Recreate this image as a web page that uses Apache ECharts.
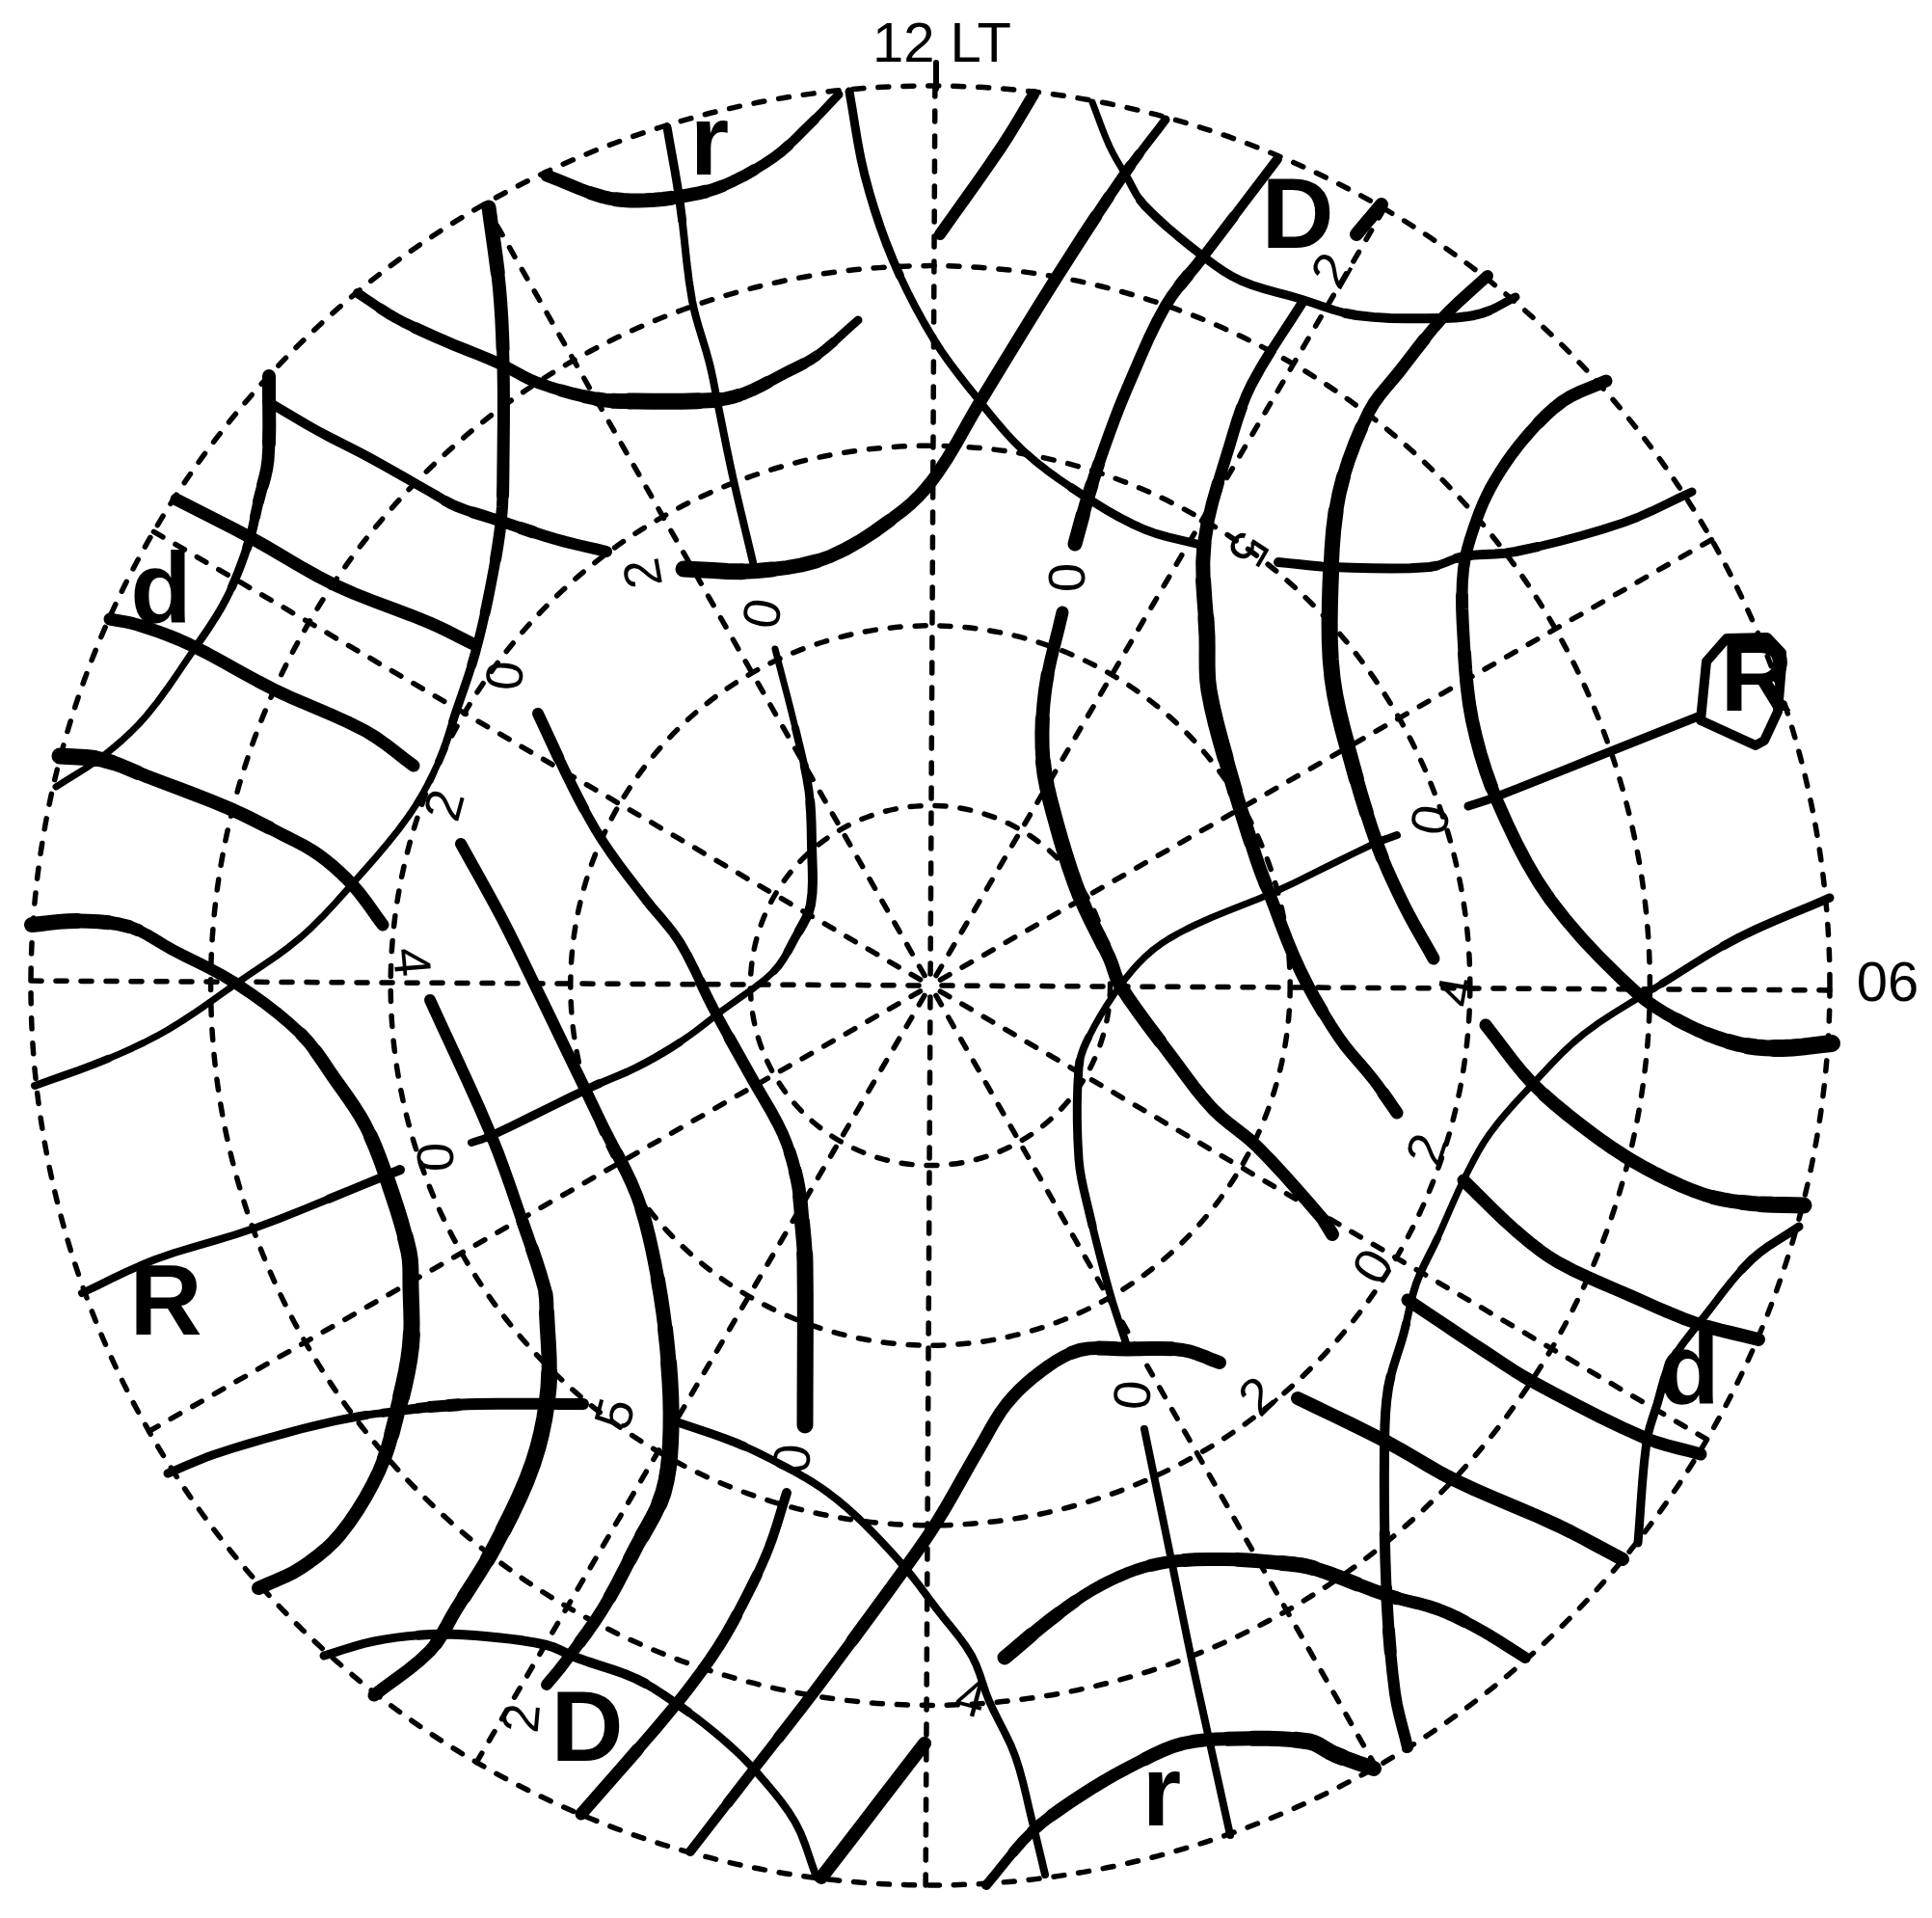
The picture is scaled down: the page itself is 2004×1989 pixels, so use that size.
<!DOCTYPE html>
<html><head><meta charset="utf-8">
<style>html,body{margin:0;padding:0;background:#fff}#c{width:2004px;height:1989px}</style>
<script src="https://cdn.jsdelivr.net/npm/echarts@6/dist/echarts.min.js"></script>
</head><body><div id="c"></div>
<script>
// ---- contour lines ----
const c01=[[567,182],[625,204],[661,208],[705,204],[749,193],[803,163],[839,130],[870,98]];
const c02=[[692,132],[705,208],[718,312],[736,377],[745,421],[760,494],[781,583]];
const c03=[[371,304],[411,330],[460,353],[518,377],[558,397],[620,414],[660,416],[740,415],[772,408],[812,388],[847,369],[890,332]];
const c04=[[507,215],[518,299],[522,377],[522,477],[520,538],[509,607],[493,677],[473,738],[455,790],[424,846],[366,916],[312,972],[245,1020],[174,1068],[112,1098],[36,1126]];
const c05=[[277,416],[330,447],[384,475],[446,510],[473,525],[518,540],[576,559],[629,572]];
const c06=[[279,390],[278,477],[268,520],[259,559],[243,603],[228,633],[205,668],[152,742],[107,784],[58,816]];
const c07=[[183,518],[259,557],[348,607],[446,646],[491,668]];
const c08=[[114,642],[143,648],[196,668],[286,716],[379,758],[429,794]];
const c09=[[62,784],[107,788],[152,805],[237,838],[290,864],[330,886],[366,918],[397,959]];
const c10=[[33,959],[80,955],[134,961],[179,985],[245,1020],[312,1072],[348,1120],[379,1167],[402,1224],[424,1298],[426,1335],[426,1396],[413,1461],[393,1526],[353,1591],[312,1626],[268,1647]];
const c11=[[415,1213],[393,1222],[263,1274],[161,1306],[85,1341]];
const c12=[[446,1037],[509,1176],[542,1267],[565,1337],[567,1361],[569,1439],[553,1517],[513,1604],[473,1669],[446,1712],[388,1758]];
const c13=[[478,875],[522,955],[554,1020],[598,1111],[625,1167],[661,1241],[679,1309],[692,1396],[696,1482],[688,1548],[660,1604],[625,1669],[585,1725],[567,1747]];
const c14=[[558,740],[594,816],[625,872],[670,933],[705,977],[740,1046],[781,1120],[812,1176],[827,1224],[832,1267],[835,1309],[835,1478]];
const c15=[[804,673],[825,755],[839,820],[842,877],[841,938],[825,972],[803,1007],[749,1048],[705,1081],[660,1107],[612,1128],[509,1178],[489,1185]];
const c16=[[336,1717],[388,1702],[446,1695],[504,1697],[567,1706],[598,1719],[660,1741],[705,1769],[749,1803],[785,1838],[825,1890],[847,1947]];
const c17=[[174,1528],[223,1508],[312,1482],[371,1469],[415,1463],[446,1459],[495,1456],[605,1456]];
const c18=[[700,1474],[763,1496],[807,1517],[852,1543],[892,1576],[939,1626],[972,1669],[1008,1717],[1026,1764],[1053,1821],[1071,1890],[1084,1944]];
const c19=[[716,1920],[781,1836],[847,1751],[939,1626],[972,1578],[1017,1500],[1044,1456],[1080,1422],[1120,1400],[1169,1399],[1227,1400],[1265,1413]];
const c20=[[852,1947],[959,1808]];
const c21=[[603,1881],[700,1769],[745,1708],[776,1652],[798,1604],[816,1548]];
const c22=[[1042,1719],[1089,1680],[1133,1649],[1178,1628],[1218,1619],[1272,1617],[1330,1621],[1362,1626],[1438,1654],[1492,1669],[1537,1691],[1582,1719]];
const c23=[[1023,1955],[1071,1899],[1124,1860],[1178,1829],[1227,1808],[1285,1803],[1358,1806],[1384,1819],[1425,1834]];
const c24=[[1187,1482],[1214,1613],[1236,1721],[1254,1803],[1276,1903]];
const c25=[[1449,866],[1425,875],[1322,925],[1240,959],[1196,985],[1162,1022],[1129,1076],[1119,1107],[1119,1202],[1129,1254],[1151,1340],[1169,1396]];
const c26=[[1523,836],[1550,827],[1676,777],[1764,742]];
const c27=[[1115,564],[1129,514],[1147,460],[1169,403],[1209,317],[1249,265],[1325,165]];
const c28=[[1102,635],[1084,716],[1082,790],[1096,855],[1120,929],[1151,994],[1162,1022],[1214,1094],[1258,1150],[1304,1189],[1371,1263],[1382,1280]];
const c29=[[1133,106],[1151,152],[1168,182],[1187,213],[1247,265],[1287,291],[1349,310],[1407,327],[1496,330],[1537,325],[1572,308]];
const c30=[[881,95],[897,182],[926,269],[968,351],[1013,412],[1062,468],[1124,514],[1187,549],[1249,566]];
const c31=[[1326,583],[1382,588],[1483,588],[1518,577],[1572,572],[1684,542],[1755,510]];
const c32=[[975,243],[1039,152],[1072,98]];
const c33=[[1209,124],[1164,184],[1097,286],[1017,416],[973,490],[937,529],[861,577],[785,592],[709,590]];
const c34=[[1543,286],[1496,330],[1451,386],[1420,427],[1389,512],[1380,607],[1382,703],[1402,790],[1429,877],[1456,938],[1487,994]];
const c35=[[1352,312],[1298,399],[1276,460],[1249,564],[1252,660],[1254,716],[1276,803],[1303,890],[1316,925],[1349,1007],[1389,1076],[1425,1120],[1449,1154]];
const c36=[[1666,395],[1621,416],[1581,455],[1550,499],[1532,538],[1518,590],[1518,660],[1527,747],[1554,833],[1608,933],[1697,1029],[1750,1063],[1804,1083],[1849,1087],[1900,1082]];
const c37=[[1898,931],[1804,972],[1724,1020],[1643,1072],[1590,1124],[1545,1176],[1518,1224],[1491,1284],[1469,1331],[1456,1383],[1440,1439],[1436,1504],[1438,1647],[1447,1756],[1460,1812]];
const c38=[[1541,1063],[1590,1124],[1652,1176],[1706,1211],[1768,1239],[1817,1248],[1871,1250]];
const c39=[[1518,1224],[1572,1276],[1616,1309],[1692,1344],[1759,1372],[1824,1389]];
const c40=[[1460,1348],[1541,1402],[1590,1433],[1706,1491],[1764,1508]];
const c41=[[1346,1450],[1438,1495],[1509,1535],[1616,1582],[1683,1617]];
const c42=[[1866,1272],[1817,1306],[1768,1365],[1733,1413],[1719,1456],[1708,1495],[1699,1600]];
const c43=[[1407,243],[1433,212]];
const c44=[[1764,747],[1770,686],[1791,662],[1833,661],[1848,677],[1848,690],[1844,738],[1830,768],[1821,773],[1764,747]];
const c45=[[971,65],[971,92]];

const contours=[c01,c02,c03,c04,c05,c06,c07,c08,c09,c10,c11,c12,c13,c14,c15,c16,c17,c18,c19,c20,c21,c22,c23,c24,c25,c26,c27,c28,c29,c30,c31,c32,c33,c34,c35,c36,c37,c38,c39,c40,c41,c42,c43,c44,c45];
const angularContours=[c44,c45];

// stroke width of each segment of each contour
const contourWidths=[
[11,13,13,12,10,9,8],[8,7,7,7,7,7],[9,10,10,10,11,14,15,12,11,10,8],[13,12,11,11,10,9,8,7,6,6,6,6,6,6,7],
[9,9,9,9,10,11,10],[12,11,9,8,7,7,6,6,6],[11,11,11,11],[11,11,11,11,11],
[15,13,12,12,11,11,11,12],[14,13,10,10,10,12,12,13,14,15,15,16,13,12,12,12],[9,7,7,7],
[10,10,12,13,14,15,15,13,12,11,11],[10,10,10,10,11,12,13,15,15,14,12,11,10],[10,9,9,9,9,10,10,11,13,14,15],
[6,7,9,9,9,7,6,6,7,7,8,7],[8,8,9,9,9,9,8,7,7,7,7],[8,8,8,7,9,11,10],[8,7,7,7,7,7,7,7,7,7,7],
[9,10,11,11,11,11,11,11,13,13,12],[12],[11,10,10,9,9],[13,11,10,11,12,13,14,13,11,11,10],[9,11,11,12,12,14,15,14],
[7,7,7,7],[7,6,6,6,6,6,7,8,8,7,7],[8,8,8],[13,11,10,10,11,9],[11,13,14,14,13,12,12,11,11,11,12],
[6,6,7,8,8,8,8,9,9,8],[8,8,7,7,7,7,8,8],[9,9,8,9,8,8],[10,10],[8,11,11,11,11,12,13,15],
[10,11,11,12,14,15,15,13,11,11],[9,10,11,14,15,15,13,12,11,11,10,11],[11,11,10,10,10,11,12,12,11,11,11,13,15,16],
[8,7,6,6,6,6,6,7,7,8,9,9,11,10],[11,12,12,12,13,15],[11,11,11,11,12],[11,11,11,11],[12,12,12,12],[8,7,7,8,8,8],[12],
[9,9,9,9,9,9,9,9,9],[5]];
const strokeScale=1.15;

// ---- text ----
const smallTexts=['12 LT','06'];
const smallXY=[[977,48],[1958,1022]];
const contourLabels=['0','0','2','0','2','4','0','5','2','0','0','2','4','0','4','5','2','0','2'];
const contourLabelXY=[[1110,599],[794,637],[670,594],[527,701],[464,836],[424,998],[455,1200],[641,1467],[544,1782],[825,1513],[1178,1447],[1307,1450],[1006,1764],[1487,851],[1514,1029],[1292,568],[1483,1193],[1427,1315],[1384,282]];
const contourLabelRot=[90,80,100,85,75,-85,90,75,85,85,85,45,-15,80,80,-120,72,60,60];
const bigLetters=['r','D','d','R','D','r','d','R'];
const bigXY=[[736,152],[1346,228],[167,616],[172,1355],[609,1797],[1205,1864],[1752,1426],[1822,708]];

// ---- dial ----
const radiusRings=[0,1,2,3,4,5];
const hourStep=30;

// draws a contour as a curve through its read points, tapering the stroke between segment widths
function strokeRuns(pts,ws,angular){
  const runs=[];
  const W=i=>ws[Math.max(0,Math.min(i,ws.length-1))];
  const D=(a,b)=>Math.hypot(a[0]-b[0],a[1]-b[1]);
  const steps=angular?1:5;
  let cur=null;
  for(let i=0;i<pts.length-1;i++){
    const p0=pts[Math.max(i-1,0)],p1=pts[i],p2=pts[i+1],p3=pts[Math.min(i+2,pts.length-1)];
    const d0=D(p0,p1),d1=D(p1,p2),d2=D(p2,p3);
    const m1=[0,1].map(k=>(p2[k]-p0[k])*d1/((d0+d1)||1));
    const m2=[0,1].map(k=>(p3[k]-p1[k])*d1/((d1+d2)||1));
    for(let s=0;s<steps;s++){
      const t=(s+1)/steps,t2=t*t,t3=t2*t;
      const q=[0,1].map(k=>(2*t3-3*t2+1)*p1[k]+(t3-2*t2+t)*m1[k]+(-2*t3+3*t2)*p2[k]+(t3-t2)*m2[k]);
      const tm=(s+.5)/steps;
      const w=Math.round((tm<.5?W(i-1)+(W(i)-W(i-1))*(tm+.5):W(i)+(W(i+1)-W(i))*(tm-.5))*strokeScale);
      if(!cur||cur.w!==w){
        const last=cur?cur.data[cur.data.length-1]:p1;
        cur={w,data:[last]};runs.push(cur);
      }
      cur.data.push(q);
    }
  }
  return runs;
}

const series=[];
contours.forEach((pts,k)=>{
  strokeRuns(pts,contourWidths[k],angularContours.includes(pts)).forEach(r=>{
    series.push({type:'line',coordinateSystem:'cartesian2d',showSymbol:false,symbol:'none',silent:true,animation:false,z:3,
      lineStyle:{color:'#000',width:r.w,cap:'round',join:'round'},data:r.data});
  });
});
const textSeries=(texts,xy,rot,font,size,weight)=>({type:'scatter',coordinateSystem:'cartesian2d',symbol:'circle',symbolSize:1,silent:true,animation:false,z:5,
  itemStyle:{color:'rgba(0,0,0,0)',opacity:1},
  data:xy.map((p,i)=>({value:p,label:{show:true,formatter:texts[i],position:'inside',align:'center',verticalAlign:'middle',rotate:rot?rot[i]:0,
    fontFamily:font,fontSize:size,fontWeight:weight,color:'#000'}}))});
series.push(textSeries(smallTexts,smallXY,null,'Liberation Sans',58,'normal'));
series.push(textSeries(contourLabels,contourLabelXY,contourLabelRot,'Liberation Sans',54,'normal'));
series.push(textSeries(bigLetters,bigXY,null,'Liberation Sans',104,'bold'));
series.push({type:'line',coordinateSystem:'polar',data:radiusRings.map(r=>[r,0]),showSymbol:false,symbol:'none',lineStyle:{opacity:0},silent:true,animation:false});

const dash={color:'#000',width:5.5,type:[11,15],cap:'round'};
const chart=echarts.init(document.getElementById('c'),null,{renderer:'canvas'});
chart.setOption({
  animation:false,backgroundColor:'#fff',
  grid:{left:0,top:0,width:2004,height:1989,containLabel:false},
  xAxis:{type:'value',min:0,max:2004,show:false},
  yAxis:{type:'value',min:0,max:1989,inverse:true,show:false},
  polar:{center:[965,1022],radius:933},
  radiusAxis:{type:'value',min:0,max:5,interval:1,axisLine:{show:false},axisTick:{show:false},axisLabel:{show:false},splitLine:{show:true,lineStyle:dash}},
  angleAxis:{type:'value',min:0,max:360,interval:hourStep,startAngle:89.7,axisLine:{show:false},axisTick:{show:false},axisLabel:{show:false},splitLine:{show:true,lineStyle:dash}},
  series
});
</script></body></html>
